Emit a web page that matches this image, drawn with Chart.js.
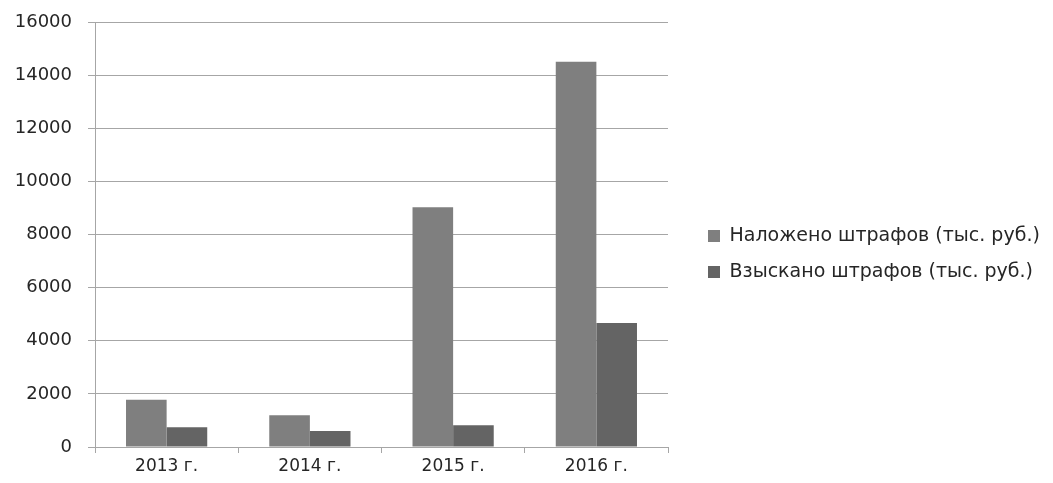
<!DOCTYPE html>
<html>
<head>
<meta charset="utf-8">
<script src="https://cdn.jsdelivr.net/npm/chart.js@4"></script>
<style>
  html, body { margin: 0; padding: 0; background: #fff; }
  #wrap { width: 1053px; height: 483px; }
</style>
</head>
<body>
<div id="wrap"><canvas id="fines"></canvas></div>
<script>
const years = ['2013 г.', '2014 г.', '2015 г.', '2016 г.'];
const imposed = [1780, 1200, 9030, 14500];
const collected = [740, 600, 820, 4670];
const yTicks = [0, 2000, 4000, 6000, 8000, 10000, 12000, 14000, 16000];

const FONT = '"DejaVu Sans", sans-serif';

// keep the legend off to the right with a gap like the original
const legendSpot = {
  id: 'legendSpot',
  beforeInit(chart) {
    const origFit = chart.legend.fit;
    chart.legend.fit = function () {
      origFit.call(this);
      this.width = 385;
    };
  },
  afterLayout(chart) {
    chart.legend.left = 691;
    chart.legend.top += 3;
  }
};

const ctx = document.getElementById('fines').getContext('2d');
new Chart(ctx, {
  type: 'bar',
  data: {
    labels: years,
    datasets: [
      {
        label: 'Наложено штрафов (тыс. руб.)',
        data: imposed,
        backgroundColor: '#7f7f7f',
        categoryPercentage: 0.567,
        barPercentage: 1.0
      },
      {
        label: 'Взыскано штрафов (тыс. руб.)',
        data: collected,
        backgroundColor: '#646464',
        categoryPercentage: 0.567,
        barPercentage: 1.0
      }
    ]
  },
  options: {
    responsive: true,
    maintainAspectRatio: false,
    animation: false,
    layout: { padding: { top: 22, right: 0, bottom: 0, left: 0 } },
    plugins: {
      tooltip: { enabled: false },
      legend: {
        position: 'right',
        labels: {
          boxWidth: 12,
          boxHeight: 12,
          padding: 17,
          color: '#262626',
          font: { family: FONT, size: 19 }
        }
      }
    },
    scales: {
      x: {
        offset: true,
        grid: {
          offset: true,
          drawOnChartArea: false,
          color: '#a6a6a6',
          tickLength: 6
        },
        border: { color: '#a6a6a6' },
        ticks: { color: '#262626', padding: 3, font: { family: FONT, size: 17 } },
        afterFit(scale) { scale.height = 36; }
      },
      y: {
        min: 0,
        max: 16000,
        afterBuildTicks(scale) { scale.ticks = yTicks.map(v => ({ value: v })); },
        grid: { color: '#a6a6a6', tickLength: 7 },
        border: { color: '#a6a6a6' },
        ticks: {
          color: '#262626',
          padding: 16,
          font: { family: FONT, size: 18 },
          callback: v => String(v)
        },
        afterFit(scale) {
          scale.width = 95;
          scale.paddingTop = 0;
          scale.paddingBottom = 0;
        }
      }
    }
  },
  plugins: [legendSpot]
});
</script>
</body>
</html>
